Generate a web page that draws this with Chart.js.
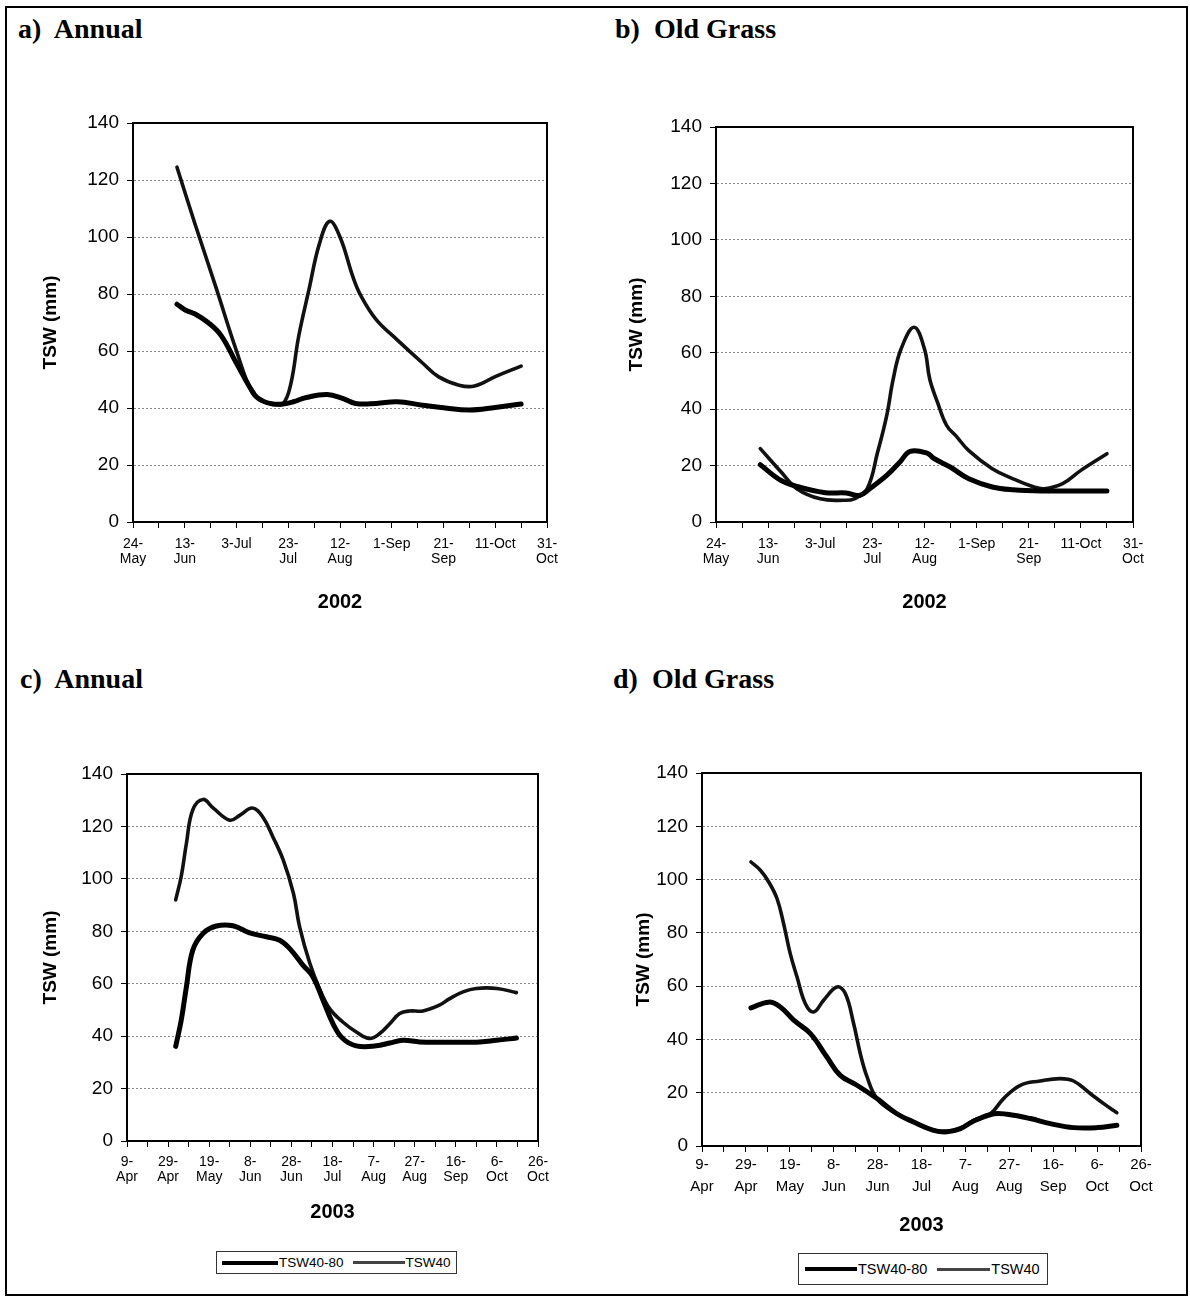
<!DOCTYPE html>
<html>
<head>
<meta charset="utf-8">
<script src="https://cdn.jsdelivr.net/npm/chart.js@4.4.1/dist/chart.umd.min.js"></script>
<style>
  body { margin: 0; background: #fff; width: 1190px; height: 1299px; position: relative; overflow: hidden;
         font-family: "Liberation Sans", Arial, sans-serif; }
  .frame { position: absolute; left: 5px; top: 6px; width: 1183px; height: 1290px; border: 2px solid #000; box-sizing: border-box; }
  .ptitle { position: absolute; font: bold 28px "Liberation Serif", "Times New Roman", serif; line-height: 28px; white-space: pre; }
  canvas.panel { position: absolute; }
  .legend { position: absolute; border: 1px solid #333; box-sizing: border-box; display: flex; align-items: center; white-space: nowrap; }
  .legend .sample { display: inline-block; }
</style>
</head>
<body>
<div class="frame"></div>

<div class="ptitle" style="left:18px;top:15px">a)  Annual</div>
<div class="ptitle" style="left:615px;top:15px">b)  Old Grass</div>
<div class="ptitle" style="left:20px;top:665px">c)  Annual</div>
<div class="ptitle" style="left:613px;top:665px">d)  Old Grass</div>

<canvas class="panel" id="chartA" width="595" height="540" style="left:0;top:100px"></canvas>
<canvas class="panel" id="chartB" width="595" height="540" style="left:595px;top:100px"></canvas>
<canvas class="panel" id="chartC" width="595" height="500" style="left:0;top:740px"></canvas>
<canvas class="panel" id="chartD" width="595" height="510" style="left:595px;top:740px"></canvas>

<div class="legend" id="legendC" style="left:216px;top:1251px;width:241px;height:23px;font-size:13.5px"></div>
<div class="legend" id="legendD" style="left:798px;top:1253px;width:250px;height:32px;font-size:14.5px"></div>

<script>
// x values are days since the first axis tick (24-May-2002 / 9-Apr-2003)
const ticks2002 = [['24-', 'May'], ['13-', 'Jun'], '3-Jul', ['23-', 'Jul'], ['12-', 'Aug'], '1-Sep', ['21-', 'Sep'], '11-Oct', ['31-', 'Oct']];
const ticks2003 = [['9-', 'Apr'], ['29-', 'Apr'], ['19-', 'May'], ['8-', 'Jun'], ['28-', 'Jun'], ['18-', 'Jul'], ['7-', 'Aug'], ['27-', 'Aug'], ['16-', 'Sep'], ['6-', 'Oct'], ['26-', 'Oct']];
const yTicks = [0, 20, 40, 60, 80, 100, 120, 140];

// a) Annual 2002
const aDeepDays = [17, 20, 24, 29, 34, 40, 47, 50, 54, 58, 62, 67, 75, 81, 86, 94, 102, 112, 120, 130, 140, 150];
const aDeepVals = [76.4, 74.5, 73, 70, 65.5, 55.7, 44.6, 42.5, 41.4, 41.4, 42.2, 43.7, 44.7, 43.4, 41.6, 41.6, 42.2, 41, 40.1, 39.3, 40.2, 41.4];
const aTopDays = [17, 24, 32, 40, 46, 50, 54, 58, 61, 64, 68, 72, 76, 80, 85, 88, 94, 102, 112, 118, 126, 132, 140, 150];
const aTopVals = [124.5, 104.5, 82.5, 60, 45.5, 42.5, 41.5, 41.5, 48.5, 65, 81.5, 97.5, 105.5, 100, 86, 79.5, 71, 64, 55.7, 51, 48, 47.7, 51, 54.7];

// b) Old Grass 2002
const bDeepDays = [17, 25, 32, 42, 50, 55, 59, 65.5, 70.5, 74.5, 81, 83.5, 90, 97, 106, 114, 125, 150];
const bDeepVals = [20.3, 14.7, 12.4, 10.4, 10.3, 9.4, 11.8, 16.5, 21.2, 25, 24.4, 22.6, 19.4, 15.3, 12.4, 11.4, 11, 11];
const bTopDays = [17, 25, 31, 40, 49, 53, 58, 62, 65.5, 68, 71, 76, 80, 82, 85, 88.5, 92, 97, 106, 114, 122, 126, 133, 140, 150];
const bTopVals = [26, 17.7, 11.8, 8.2, 7.7, 8.2, 11.8, 24.7, 37.7, 50.7, 61.3, 69, 61.3, 50.7, 42.4, 34.2, 30.6, 25.3, 18.9, 15.3, 12.4, 11.8, 13.6, 18.3, 24.2];

// c) Annual 2003
const cDeepDays = [23.7, 26.4, 28.9, 32, 37, 43.5, 51.6, 59.7, 67.8, 74.3, 79.2, 85.6, 90.5, 95.4, 100.2, 105, 111.6, 121.3, 127.8, 134.3, 142.4, 153.8, 170, 179.7, 189.5];
const cDeepVals = [36.1, 46.1, 58.8, 72.8, 79.2, 82, 82.1, 79.4, 77.9, 76.6, 73.4, 67.1, 62.6, 53.7, 44.8, 39.1, 36.3, 36.3, 37.4, 38.4, 37.8, 37.7, 37.7, 38.4, 39.3];
const cTopDays = [23.7, 26.4, 28.9, 32, 37, 42, 50, 55, 61, 66, 71, 76, 81, 84, 89, 94, 98.6, 105, 111.6, 118, 123, 128, 132.7, 137.5, 144, 152, 157, 163.5, 170, 180, 189.5];
const cTopVals = [92, 101, 113.5, 126.3, 130.3, 127, 122.4, 124.3, 127, 123.7, 116, 107.2, 94.4, 81.7, 67.7, 57.5, 50.5, 45.4, 41.6, 39.1, 41, 44.8, 48.6, 49.6, 49.6, 51.8, 54.3, 56.9, 58.2, 58.2, 56.6];

// d) Old Grass 2003
const dDeepDays = [22.3, 30.4, 35.7, 41.8, 49.4, 56.9, 63, 70.6, 79.7, 88.8, 96.4, 105.5, 111.6, 117.7, 123.8, 133, 139, 149.6, 158.7, 169.3, 180, 189];
const dDeepVals = [51.8, 54, 52.2, 47.2, 42.2, 33.4, 26.5, 22.8, 17.8, 12.1, 9, 5.9, 5.3, 6.5, 9.4, 12.1, 11.9, 10.3, 8.4, 6.9, 6.9, 7.8];
const dTopDays = [22.3, 26.6, 30.4, 34.2, 37.2, 40.2, 43.3, 47.1, 50.9, 55.4, 61.5, 65.3, 69.1, 72.1, 75.2, 79.7, 87.3, 96.4, 105.5, 111.6, 117.7, 123.8, 131.4, 137.4, 145, 154, 163, 169.3, 177, 183, 189];
const dTopVals = [106.6, 103.5, 99.1, 92.8, 83.4, 72.2, 63.4, 53.4, 50.3, 54.7, 59.7, 57.2, 45.9, 34.7, 25.9, 17.8, 12.8, 9, 5.9, 5.6, 6.5, 9.6, 12.1, 17.8, 22.8, 24.4, 25.3, 24.4, 19.6, 15.9, 12.5];

Chart.defaults.font.family = '"Liberation Sans", Arial, sans-serif';
Chart.defaults.color = '#000';

function toPoints(days, vals) {
  return days.map((d, i) => ({ x: d, y: vals[i] }));
}

// black box round the plot area, like the Excel plot frame
const plotFrame = {
  id: 'plotFrame',
  afterDraw(chart) {
    const { ctx, chartArea: a } = chart;
    ctx.save();
    ctx.strokeStyle = '#000';
    ctx.lineWidth = 2;
    ctx.strokeRect(a.left, a.top, a.right - a.left, a.bottom - a.top);
    ctx.restore();
  }
};

function makePanel(id, p) {
  return new Chart(document.getElementById(id), {
    type: 'line',
    data: {
      datasets: [
        { label: 'TSW40-80', data: toPoints(p.deepDays, p.deepVals), borderColor: '#000', borderWidth: 5 },
        { label: 'TSW40', data: toPoints(p.topDays, p.topVals), borderColor: '#111', borderWidth: 3.6 }
      ]
    },
    options: {
      responsive: false,
      animation: false,
      devicePixelRatio: 1,
      layout: { padding: p.pad },
      elements: { point: { radius: 0 }, line: { tension: 0.4, borderCapStyle: 'round' } },
      plugins: { legend: { display: false }, tooltip: { enabled: false } },
      scales: {
        x: {
          type: 'linear',
          min: 0,
          max: p.ticks.length * 20 - 20,
          afterFit: s => { s.height = p.xh; s.paddingLeft = 0; s.paddingRight = 0; },
          ticks: {
            stepSize: 10,
            autoSkip: false,
            maxRotation: 0,
            padding: p.xPad,
            font: { size: p.xFont, lineHeight: p.xLine },
            callback: v => (v % 20 === 0 ? p.ticks[v / 20] : '')
          },
          grid: { drawOnChartArea: false, color: '#000', tickLength: 6 },
          border: { color: '#000', width: 2 },
          title: { display: true, text: p.year, font: { size: 20, weight: 'bold' }, padding: { top: 0, bottom: p.titlePad } }
        },
        y: {
          min: 0,
          max: 140,
          afterFit: s => { s.width = p.yw; s.paddingTop = 0; s.paddingBottom = 0; },
          afterBuildTicks: s => { s.ticks = yTicks.map(v => ({ value: v })); },
          ticks: { padding: 8, font: { size: 19 } },
          grid: { color: '#8a8a8a', lineWidth: 1, tickColor: '#000', tickLength: 6, tickBorderDash: [] },
          border: { color: '#000', width: 2, dash: [2, 2] },
          title: { display: true, text: 'TSW (mm)', font: { size: 19, weight: 'bold' }, padding: { top: p.yTitlePad, bottom: 0 } }
        }
      }
    },
    plugins: [plotFrame]
  });
}

// legend boxes under the 2003 panels, built from the chart datasets
function buildLegend(elId, chart, s) {
  const el = document.getElementById(elId);
  chart.data.datasets.forEach((ds, i) => {
    const line = document.createElement('span');
    line.className = 'sample';
    line.style.width = s.widths[i] + 'px';
    line.style.height = (i === 0 ? 4 : 3) + 'px';
    line.style.background = i === 0 ? '#000' : '#444';
    line.style.marginLeft = s.gaps[i] + 'px';
    const txt = document.createElement('span');
    txt.textContent = ds.label;
    txt.style.marginLeft = '1px';
    el.appendChild(line);
    el.appendChild(txt);
  });
}

makePanel('chartA', {
  deepDays: aDeepDays, deepVals: aDeepVals, topDays: aTopDays, topVals: aTopVals,
  ticks: ticks2002, year: '2002',
  pad: { left: 0, top: 23, right: 48, bottom: 18 },
  yw: 133, xh: 100, xPad: 9, xFont: 14, xLine: 1.05, titlePad: 8, yTitlePad: 39
});
makePanel('chartB', {
  deepDays: bDeepDays, deepVals: bDeepVals, topDays: bTopDays, topVals: bTopVals,
  ticks: ticks2002, year: '2002',
  pad: { left: 0, top: 27, right: 57, bottom: 18 },
  yw: 121, xh: 100, xPad: 9, xFont: 14, xLine: 1.05, titlePad: 8, yTitlePad: 30
});
const chartC = makePanel('chartC', {
  deepDays: cDeepDays, deepVals: cDeepVals, topDays: cTopDays, topVals: cTopVals,
  ticks: ticks2003, year: '2003',
  pad: { left: 0, top: 34, right: 57, bottom: 9 },
  yw: 127, xh: 90, xPad: 8, xFont: 14, xLine: 1.07, titlePad: 7, yTitlePad: 39
});
const chartD = makePanel('chartD', {
  deepDays: dDeepDays, deepVals: dDeepVals, topDays: dTopDays, topVals: dTopVals,
  ticks: ticks2003, year: '2003',
  pad: { left: 0, top: 33, right: 49, bottom: 9 },
  yw: 107, xh: 95, xPad: 2, xFont: 15, xLine: 1.47, titlePad: 4, yTitlePad: 37
});

buildLegend('legendC', chartC, { widths: [56, 52], gaps: [5, 9] });
buildLegend('legendD', chartD, { widths: [52, 53], gaps: [6, 10] });
</script>
</body>
</html>
